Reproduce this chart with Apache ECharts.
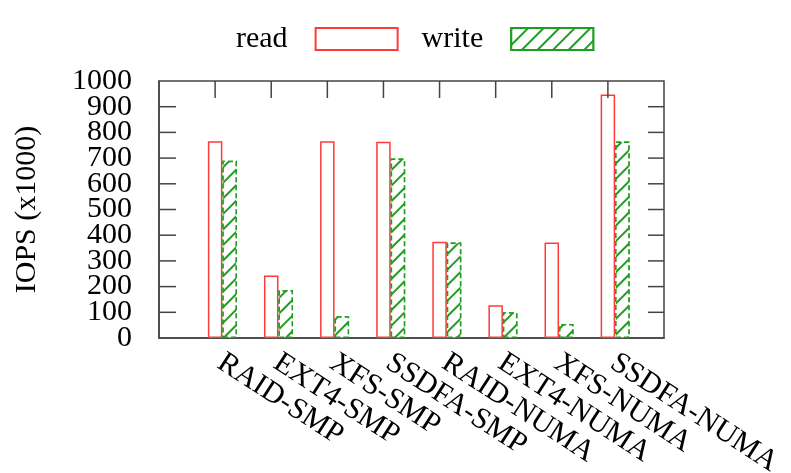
<!DOCTYPE html>
<html>
<head>
<meta charset="utf-8">
<script src="https://cdn.jsdelivr.net/npm/echarts@6/dist/echarts.min.js"></script>
<style>html,body{margin:0;padding:0;background:#fff;}#c{width:791px;height:473px;}</style>
</head>
<body>
<div id="c"></div>
<script>
const categories = ['RAID-SMP','EXT4-SMP','XFS-SMP','SSDFA-SMP','RAID-NUMA','EXT4-NUMA','XFS-NUMA','SSDFA-NUMA'];
const readValues = [766, 243, 766, 764, 375, 127, 372, 947];
const writeValues = [690, 186, 85, 698, 372, 100, 54, 765];
const yTicks = [0,100,200,300,400,500,600,700,800,900,1000];
const yEndTicks = [0, 1000];

const FONT = 'Liberation Serif';
const FS = 30;
const RED = '#ff3a3a';
const GREEN = '#1e9e1e';
const AX = '#444';

// pad with empty slots so category positions sit at 1..8 of a 0..9 range
const xData = [''].concat(categories, ['']);
const pad = arr => [null].concat(arr, [null]);
const yMax = yTicks[yTicks.length - 1];

// tick marks (kind 0 = left, 1 = right, 2 = top), placed through the axes' scales
const tickData = []
  .concat(yTicks.slice(1, -1).map(v => [0, v, 0]))
  .concat(yTicks.slice(1, -1).map(v => [xData.length - 1, v, 1]))
  .concat(categories.map((c, i) => [i + 1, yMax, 2]));

const hatch = {
  symbol: 'rect', symbolSize: 1,
  dashArrayX: [1, 0], dashArrayY: [2, 9],
  rotation: -Math.PI / 4,
  color: GREEN, backgroundColor: '#fff'
};

const yLabelBase = {fontFamily: FONT, fontSize: FS, color: '#000', margin: 27};
const off = {show: false};

const chart = echarts.init(document.getElementById('c'), null, {renderer: 'canvas'});
chart.setOption({
  animation: false,
  backgroundColor: '#fff',
  legend: {
    data: [{name: 'read', icon: 'rect'}, {name: 'write', icon: 'rect'}],
    top: 19, left: 231,
    align: 'right',
    itemWidth: 82, itemHeight: 22, itemGap: 23,
    textStyle: {fontFamily: FONT, fontSize: FS, color: '#000', padding: [0, 23, 0, 0]}
  },
  grid: {left: 159, right: 127, top: 81, bottom: 135, show: true, borderColor: AX, borderWidth: 1.5,
    backgroundColor: 'transparent', outerBoundsMode: 'none', containLabel: false},
  xAxis: [{
    type: 'category', position: 'bottom', data: xData, boundaryGap: false,
    axisLine: {show: true, lineStyle: {color: AX, width: 1.5}},
    axisTick: off,
    splitLine: off,
    axisLabel: {
      interval: 0, rotate: -33, margin: 19, padding: [0, 0, 0, 6],
      fontFamily: FONT, fontSize: FS, color: '#000'
    }
  }],
  yAxis: [{
    type: 'value', position: 'left', min: 0, max: yMax, interval: 100,
    name: 'IOPS (x1000)', nameLocation: 'middle', nameRotate: 90, nameGap: 117,
    nameTextStyle: {fontFamily: FONT, fontSize: FS, color: '#000'},
    axisLine: {show: true, lineStyle: {color: AX, width: 1.5}},
    axisTick: off,
    axisLabel: Object.assign({}, yLabelBase, {
      formatter: v => (yTicks.indexOf(v) >= 0 && yEndTicks.indexOf(v) < 0) ? String(v) : ''}),
    splitLine: off
  }, {
    type: 'value', position: 'left', offset: 0, min: 0, max: yMax, interval: 100,
    axisLine: off, axisTick: off,
    axisLabel: Object.assign({}, yLabelBase, {
      showMinLabel: true, showMaxLabel: true,
      formatter: v => yEndTicks.indexOf(v) >= 0 ? String(v) : ''}),
    splitLine: off
  }],
  series: [{
    name: '_spacer', type: 'bar', xAxisIndex: 0, yAxisIndex: 0,
    data: pad(categories.map(() => null)),
    barWidth: 14.5, barGap: '0%', silent: true
  }, {
    name: 'read', type: 'bar', xAxisIndex: 0, yAxisIndex: 0,
    data: pad(readValues), barWidth: 14.5, barGap: '0%',
    itemStyle: {color: '#fff', borderColor: RED, borderWidth: 1.5}
  }, {
    name: 'write', type: 'bar', xAxisIndex: 0, yAxisIndex: 0,
    data: pad(writeValues), barWidth: 14.5, barGap: '0%',
    itemStyle: {color: '#fff', borderColor: GREEN, borderWidth: 1.5,
      borderType: [5, 3], decal: hatch}
  }, {
    name: '_ticks', type: 'custom', xAxisIndex: 0, yAxisIndex: 0,
    silent: true, z: 10, clip: false,
    encode: {x: 0, y: 1},
    data: tickData,
    renderItem: (params, api) => {
      const kind = api.value(2);
      const p = api.coord([api.value(0), api.value(1)]);
      let x2 = p[0], y2 = p[1];
      if (kind === 0) x2 += 17;
      else if (kind === 1) x2 -= 16;
      else y2 += 17;
      return {type: 'line', shape: {x1: p[0], y1: p[1], x2: x2, y2: y2},
        style: {stroke: AX, lineWidth: 1.5}};
    }
  }]
});
</script>
</body>
</html>
